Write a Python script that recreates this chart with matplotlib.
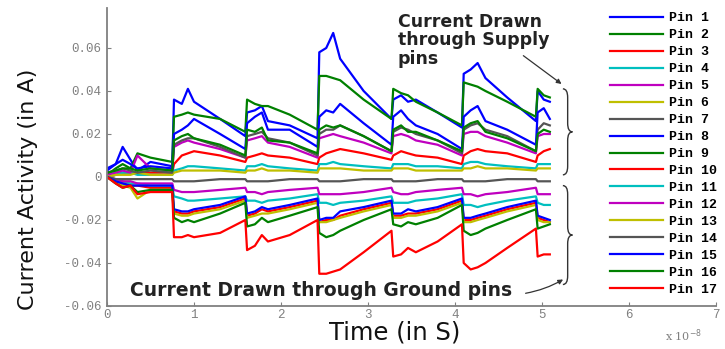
# Current activity per pin over time (supply pins above zero, ground pins below)

from itertools import cycle

import matplotlib

matplotlib.use("Agg")
import matplotlib.pyplot as plt
from matplotlib.font_manager import FontProperties
from matplotlib.path import Path
from matplotlib.patches import PathPatch

W_PX, H_PX = 725, 349

# time axis in units of 1e-8 s
TIME = [0.00, 0.10, 0.18, 0.27, 0.35, 0.50, 0.75,
        0.77, 0.86, 0.93, 1.00, 1.30, 1.59,
        1.61, 1.70, 1.78, 1.85, 2.10, 2.42,
        2.44, 2.52, 2.60, 2.68, 2.95, 3.27,
        3.29, 3.38, 3.46, 3.55, 3.80, 4.08,
        4.10, 4.18, 4.26, 4.35, 4.60, 4.93,
        4.95, 5.02, 5.09]

# supply pins
PIN_1 = [0.003, 0.006, 0.014, 0.008, 0.003, 0.007, 0.005,
         0.036, 0.034, 0.041, 0.035, 0.027, 0.019,
         0.030, 0.031, 0.033, 0.026, 0.024, 0.018,
         0.058, 0.060, 0.067, 0.055, 0.040, 0.027,
         0.036, 0.038, 0.035, 0.036, 0.030, 0.023,
         0.048, 0.050, 0.053, 0.046, 0.037, 0.026,
         0.040, 0.036, 0.035]
PIN_2 = [0.001, 0.004, 0.006, 0.004, 0.011, 0.009, 0.007,
         0.028, 0.029, 0.030, 0.029, 0.027, 0.021,
         0.036, 0.034, 0.033, 0.033, 0.029, 0.022,
         0.047, 0.047, 0.046, 0.045, 0.036, 0.027,
         0.041, 0.039, 0.038, 0.035, 0.030, 0.024,
         0.044, 0.043, 0.042, 0.040, 0.035, 0.028,
         0.041, 0.038, 0.037]
PIN_3 = [0.000, 0.001, 0.002, 0.002, 0.002, 0.002, 0.002,
         0.006, 0.010, 0.011, 0.012, 0.010, 0.007,
         0.009, 0.010, 0.011, 0.010, 0.009, 0.006,
         0.009, 0.011, 0.012, 0.013, 0.011, 0.008,
         0.010, 0.012, 0.011, 0.010, 0.009, 0.006,
         0.010, 0.012, 0.013, 0.012, 0.011, 0.007,
         0.010, 0.012, 0.013]
PIN_4 = [0.000, 0.001, 0.002, 0.002, 0.001, 0.001, 0.001,
         0.003, 0.004, 0.005, 0.005, 0.004, 0.003,
         0.005, 0.005, 0.006, 0.005, 0.004, 0.003,
         0.006, 0.006, 0.007, 0.006, 0.005, 0.004,
         0.006, 0.006, 0.006, 0.005, 0.005, 0.004,
         0.006, 0.007, 0.007, 0.006, 0.005, 0.004,
         0.006, 0.006, 0.006]
PIN_5 = [0.001, 0.002, 0.003, 0.002, 0.010, 0.004, 0.003,
         0.014, 0.016, 0.017, 0.016, 0.013, 0.009,
         0.017, 0.018, 0.019, 0.016, 0.014, 0.009,
         0.018, 0.019, 0.020, 0.019, 0.016, 0.011,
         0.019, 0.020, 0.019, 0.017, 0.015, 0.010,
         0.020, 0.021, 0.021, 0.019, 0.016, 0.011,
         0.019, 0.020, 0.020]
PIN_6 = [0.000, 0.001, 0.001, 0.001, 0.002, 0.001, 0.001,
         0.002, 0.003, 0.003, 0.003, 0.003, 0.002,
         0.003, 0.003, 0.004, 0.003, 0.003, 0.002,
         0.004, 0.004, 0.004, 0.004, 0.003, 0.003,
         0.004, 0.004, 0.004, 0.003, 0.003, 0.003,
         0.004, 0.004, 0.005, 0.004, 0.004, 0.003,
         0.004, 0.004, 0.004]
PIN_7 = [0.002, 0.003, 0.004, 0.003, 0.002, 0.003, 0.002,
         0.015, 0.017, 0.018, 0.018, 0.014, 0.009,
         0.019, 0.020, 0.021, 0.018, 0.016, 0.010,
         0.020, 0.022, 0.022, 0.024, 0.019, 0.012,
         0.021, 0.023, 0.022, 0.020, 0.017, 0.011,
         0.022, 0.024, 0.025, 0.022, 0.019, 0.012,
         0.022, 0.025, 0.024]
PIN_8 = [0.004, 0.006, 0.008, 0.006, 0.004, 0.005, 0.004,
         0.020, 0.022, 0.024, 0.027, 0.020, 0.013,
         0.025, 0.028, 0.030, 0.022, 0.022, 0.014,
         0.028, 0.031, 0.030, 0.034, 0.025, 0.015,
         0.028, 0.031, 0.027, 0.024, 0.020, 0.013,
         0.028, 0.031, 0.033, 0.026, 0.022, 0.015,
         0.030, 0.032, 0.027]
PIN_9 = [0.002, 0.003, 0.004, 0.004, 0.003, 0.004, 0.003,
         0.017, 0.019, 0.020, 0.018, 0.015, 0.010,
         0.022, 0.021, 0.023, 0.017, 0.016, 0.011,
         0.022, 0.024, 0.023, 0.024, 0.019, 0.012,
         0.022, 0.024, 0.021, 0.021, 0.017, 0.012,
         0.023, 0.025, 0.026, 0.021, 0.018, 0.012,
         0.020, 0.022, 0.021]

# ground pins
PIN_10 = [0.000, -0.002, -0.003, -0.004, -0.004, -0.005, -0.005,
          -0.016, -0.017, -0.017, -0.016, -0.014, -0.010,
          -0.018, -0.017, -0.015, -0.016, -0.014, -0.011,
          -0.021, -0.020, -0.020, -0.018, -0.015, -0.012,
          -0.018, -0.018, -0.017, -0.017, -0.015, -0.011,
          -0.020, -0.020, -0.019, -0.018, -0.015, -0.012,
          -0.019, -0.020, -0.021]
PIN_11 = [0.000, -0.001, -0.002, -0.003, -0.003, -0.004, -0.004,
          -0.009, -0.010, -0.011, -0.011, -0.010, -0.009,
          -0.011, -0.011, -0.012, -0.011, -0.010, -0.008,
          -0.012, -0.012, -0.013, -0.012, -0.011, -0.009,
          -0.012, -0.012, -0.012, -0.011, -0.010, -0.008,
          -0.013, -0.013, -0.014, -0.013, -0.011, -0.009,
          -0.012, -0.013, -0.013]
PIN_12 = [0.000, -0.001, -0.002, -0.002, -0.003, -0.003, -0.003,
          -0.006, -0.007, -0.007, -0.007, -0.006, -0.005,
          -0.007, -0.007, -0.008, -0.007, -0.006, -0.005,
          -0.008, -0.008, -0.008, -0.008, -0.007, -0.005,
          -0.007, -0.008, -0.008, -0.007, -0.006, -0.005,
          -0.008, -0.008, -0.009, -0.008, -0.007, -0.005,
          -0.008, -0.008, -0.008]
PIN_13 = [0.000, -0.002, -0.004, -0.005, -0.010, -0.006, -0.006,
          -0.017, -0.018, -0.018, -0.017, -0.015, -0.011,
          -0.019, -0.018, -0.017, -0.017, -0.015, -0.012,
          -0.021, -0.021, -0.020, -0.019, -0.016, -0.013,
          -0.019, -0.019, -0.018, -0.018, -0.016, -0.012,
          -0.021, -0.021, -0.020, -0.019, -0.016, -0.013,
          -0.020, -0.021, -0.021]
PIN_14 = [0.000, -0.001, -0.001, -0.001, -0.001, -0.001, -0.001,
          -0.002, -0.002, -0.002, -0.002, -0.001, -0.001,
          -0.002, -0.002, -0.002, -0.002, -0.001, -0.001,
          -0.002, -0.002, -0.002, -0.002, -0.001, -0.001,
          -0.002, -0.002, -0.002, -0.002, -0.001, -0.001,
          -0.002, -0.002, -0.002, -0.002, -0.001, -0.001,
          -0.002, -0.002, -0.002]
PIN_15 = [0.000, -0.002, -0.003, -0.004, -0.004, -0.004, -0.004,
          -0.015, -0.016, -0.016, -0.015, -0.013, -0.009,
          -0.017, -0.016, -0.014, -0.015, -0.013, -0.010,
          -0.020, -0.019, -0.019, -0.016, -0.014, -0.011,
          -0.017, -0.017, -0.015, -0.016, -0.014, -0.010,
          -0.019, -0.019, -0.018, -0.017, -0.014, -0.011,
          -0.018, -0.019, -0.020]
PIN_16 = [0.000, -0.003, -0.005, -0.004, -0.007, -0.006, -0.006,
          -0.019, -0.021, -0.020, -0.021, -0.017, -0.012,
          -0.023, -0.022, -0.019, -0.021, -0.018, -0.014,
          -0.026, -0.028, -0.027, -0.025, -0.020, -0.015,
          -0.022, -0.023, -0.021, -0.022, -0.019, -0.013,
          -0.025, -0.027, -0.026, -0.024, -0.020, -0.015,
          -0.024, -0.023, -0.022]
PIN_17 = [0.000, -0.003, -0.005, -0.004, -0.008, -0.007, -0.007,
          -0.028, -0.028, -0.027, -0.028, -0.026, -0.020,
          -0.034, -0.032, -0.027, -0.030, -0.027, -0.020,
          -0.045, -0.045, -0.044, -0.043, -0.035, -0.025,
          -0.037, -0.036, -0.033, -0.035, -0.030, -0.022,
          -0.040, -0.043, -0.042, -0.040, -0.033, -0.024,
          -0.037, -0.036, -0.036]

PINS = [PIN_1, PIN_2, PIN_3, PIN_4, PIN_5, PIN_6, PIN_7, PIN_8, PIN_9,
        PIN_10, PIN_11, PIN_12, PIN_13, PIN_14, PIN_15, PIN_16, PIN_17]
LABELS = [f"Pin {i + 1}" for i in range(len(PINS))]

X_TICKS = [0, 1, 2, 3, 4, 5, 6, 7]
Y_TICKS = [-0.06, -0.04, -0.02, 0.0, 0.02, 0.04, 0.06]
Y_TICK_LABELS = ["-0.06", "-0.04", "-0.02", "0", "0.02", "0.04", "0.06"]

# matlab's classic colour order
COLOURS = ["#0000ff", "#008000", "#ff0000", "#00bfbf", "#bf00bf", "#bfbf00", "#555555"]

GREY = "#808080"
TICK_FONT = FontProperties(family=["Liberation Mono", "DejaVu Sans Mono"], size=9)
LEGEND_FONT = FontProperties(family=["Liberation Mono", "DejaVu Sans Mono"], weight="bold", size=9.5)


def brace(ax, x, y_bottom, y_top, w=0.055, d=0.004):
    """Right-pointing curly brace drawn in data coordinates."""
    ym = (y_bottom + y_top) / 2
    verts = [
        (x, y_top),
        (x + w, y_top), (x + w, y_top - d),
        (x + w, ym + d),
        (x + w, ym), (x + 2 * w, ym),
        (x + w, ym), (x + w, ym - d),
        (x + w, y_bottom + d),
        (x + w, y_bottom), (x, y_bottom),
    ]
    codes = [Path.MOVETO,
             Path.CURVE3, Path.CURVE3,
             Path.LINETO,
             Path.CURVE3, Path.CURVE3,
             Path.CURVE3, Path.CURVE3,
             Path.LINETO,
             Path.CURVE3, Path.CURVE3]
    ax.add_patch(PathPatch(Path(verts, codes), fill=False, lw=1.0, ec="#333333"))


fig = plt.figure(figsize=(W_PX / 100, H_PX / 100), dpi=100)
ax = fig.add_axes([107 / W_PX, 43 / H_PX, 609 / W_PX, 298 / H_PX])

colours = cycle(COLOURS)
for values, label in zip(PINS, LABELS):
    ax.plot(TIME, values, color=next(colours), lw=1.6, label=label)

ax.set_xlim(0, 7)
ax.set_ylim(-0.06, 0.0786)
ax.set_xticks(X_TICKS)
ax.set_xticklabels([str(t) for t in X_TICKS])
ax.set_yticks(Y_TICKS)
ax.set_yticklabels(Y_TICK_LABELS)
for lab in ax.get_xticklabels() + ax.get_yticklabels():
    lab.set_fontproperties(TICK_FONT)
ax.tick_params(direction="in", length=3, width=0.8, colors=GREY, pad=4)
ax.tick_params(axis="x", pad=2)

for side in ["top", "right"]:
    ax.spines[side].set_visible(False)
for side in ["left", "bottom"]:
    ax.spines[side].set_color(GREY)
    ax.spines[side].set_linewidth(1.3)

ax.set_xlabel("Time (in S)", fontsize=17.5, family="DejaVu Sans", color="#111111")
ax.xaxis.set_label_coords((395 - 107) / 609, -0.047)
ax.set_ylabel("Current Activity (in A)", fontsize=16, family="DejaVu Sans", color="#111111")
ax.yaxis.set_label_coords((38 - 107) / 609, 0.39)

fig.text(683 / W_PX, 1 - 336 / H_PX, r"x 10$^{-8}$", ha="center", va="center",
         color=GREY, fontsize=8, family="DejaVu Serif")

# annotations
ax.text(3.34, 0.0765, "Current Drawn\nthrough Supply\npins", ha="left", va="top",
        fontsize=12.5, fontweight="bold", linespacing=1.05, color="#222222")
ax.annotate("", xy=(5.25, 0.0425), xytext=(4.76, 0.0572),
            arrowprops=dict(arrowstyle="-|>", color="#333333", lw=0.9, mutation_scale=7))
ax.text(0.27, -0.0527, "Current Drawn through Ground pins", ha="left", va="center",
        fontsize=13.5, fontweight="bold", color="#222222")
ax.annotate("", xy=(5.27, -0.0470), xytext=(4.78, -0.0543),
            arrowprops=dict(arrowstyle="-|>", color="#333333", lw=0.9, mutation_scale=7,
                            connectionstyle="arc3,rad=0.1"))

brace(ax, 5.24, 0.001, 0.041)
brace(ax, 5.24, -0.050, -0.004)

ax.legend(loc="upper left", bbox_to_anchor=(610 / W_PX, 1 - 12 / H_PX),
          bbox_transform=fig.transFigure, frameon=False, prop=LEGEND_FONT,
          handlelength=4.0, handletextpad=0.45, labelspacing=0.36,
          borderaxespad=0, borderpad=0)

fig.savefig("out.png", dpi=100)
